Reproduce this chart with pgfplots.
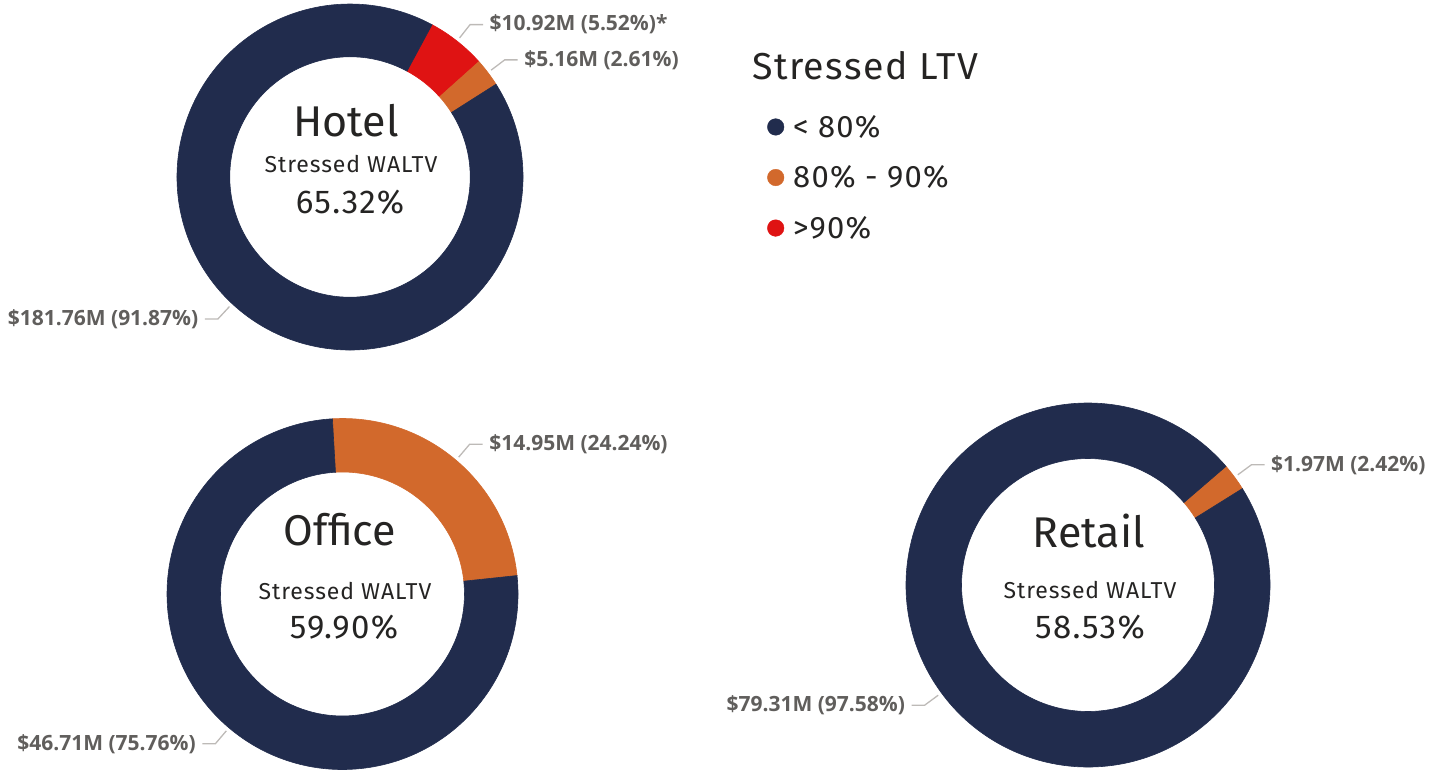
\documentclass[border=0pt]{standalone}
\usepackage{fontspec}
\usepackage{pgfplots}
\usepackage{pgfplotstable}
\pgfplotsset{compat=1.18}
\newfontfamily\dinf{Fira Sans}[LetterSpace=4]
\newfontfamily\dint{Fira Sans}
\newfontfamily\segf{Open Sans}
\definecolor{cnavy}{HTML}{212C4D}
\definecolor{corange}{HTML}{D2692C}
\definecolor{cred}{HTML}{DF1313}
\definecolor{ctext}{HTML}{252423}
\definecolor{clab}{HTML}{605E5C}
\definecolor{cline}{HTML}{BDBAB7}

\pgfplotstableread{
pct   value  col     star
5.52  10.92  cred    1
2.61  5.16   corange 0
91.87 181.76 cnavy   0
}\hoteltab
\pgfplotstableread{
pct   value  col     star
24.24 14.95  corange 0
75.76 46.71  cnavy   0
}\officetab
\pgfplotstableread{
pct   value  col     star
2.42  1.97   corange 0
97.58 79.31  cnavy   0
}\retailtab

\def\innerratio{0.695}
\newcommand\labtext[3]{\$#1M (#2\%)\ifnum#3=1*\fi}
\tikzset{leader/.style={draw=cline, line width=1.3pt},
  labnode/.style={font=\segf\bfseries\fontsize{21}{25}\selectfont, text=clab}}

\newcommand{\donut}[5]{%
  \pgfplotstablegetrowsof{#1}%
  \pgfmathtruncatemacro\nlast{\pgfplotsretval-1}%
  \xdef\cum{#4}%
  \pgfmathsetmacro\Ri{#5*\innerratio}%
  \pgfmathsetmacro\Rw{#5-\Ri}%
  \pgfmathsetmacro\Rl{#5+4}%
  \foreach \i in {0,...,\nlast}{%
    \pgfplotstablegetelem{\i}{pct}\of{#1}\let\slpct\pgfplotsretval
    \pgfplotstablegetelem{\i}{value}\of{#1}\let\slval\pgfplotsretval
    \pgfplotstablegetelem{\i}{col}\of{#1}\let\slcol\pgfplotsretval
    \pgfplotstablegetelem{\i}{star}\of{#1}\let\slstar\pgfplotsretval
    \pgfmathsetmacro\aone{90-\cum}%
    \pgfmathsetmacro\atwo{90-\cum-3.6*\slpct}%
    \pgfmathsetmacro\amid{90-\cum-1.8*\slpct}%
    \pgfmathsetmacro\newcum{\cum+3.6*\slpct}\xdef\cum{\newcum}%
    \pgfmathtruncatemacro\rside{cos(\amid)>=0}%
    \ifnum\rside=1 \def\anch{west}\def\dx{13}\else\def\anch{east}\def\dx{-13}\fi
    \edef\temp{%
      \noexpand\fill[\slcol, draw=\slcol, line width=0.6pt] (axis cs:#2,#3) ++(\aone:#5pt) arc[start angle=\aone, end angle=\atwo, radius=#5pt] -- ++(\atwo:-\Rw pt) arc[start angle=\atwo, end angle=\aone, radius=\Ri pt] -- cycle;
      \noexpand\draw[leader] (axis cs:#2,#3) ++(\amid:\Rl pt) -- ++(\amid:17pt) -- ++(\dx pt,0pt) node[anchor=\anch, inner sep=6pt, labnode] {\noexpand\labtext{\slval}{\slpct}{\slstar}};
    }%
    \temp
  }%
}

\begin{document}
\begin{tikzpicture}
\begin{axis}[name=ax, x=1pt, y=1pt, xmin=0, xmax=1429, ymin=0, ymax=770,
  y dir=reverse, hide axis, clip=false,
  legend cell align=left,
  legend style={at={(axis cs:764,111)}, anchor=north west, draw=none, fill=none,
    font=\dinf\fontsize{31}{36}\selectfont, text=ctext, row sep=23pt,
    /tikz/every odd column/.append style={column sep=7pt}}]
\addlegendimage{legend image code/.code={\fill[cnavy] (0pt,0pt) circle (8.3pt);}}
\addlegendentry{< 80\%}
\addlegendimage{legend image code/.code={\fill[corange] (0pt,0pt) circle (8.3pt);}}
\addlegendentry{80\% - 90\%}
\addlegendimage{legend image code/.code={\fill[cred] (0pt,0pt) circle (8.3pt);}}
\addlegendentry{>90\%}

\donut{\hoteltab}{350}{177}{28.3}{173}
\donut{\officetab}{342.5}{594}{-3.3}{175.5}
\donut{\retailtab}{1088}{585}{49.3}{182}

% centre texts
\node[anchor=base, text=ctext, font=\dint\fontsize{43}{50}\selectfont] at (axis cs:346,137) {Hotel};
\node[anchor=base, text=ctext, font=\dinf\fontsize{23}{27}\selectfont] at (axis cs:351,173) {Stressed WALTV};
\node[anchor=base, text=ctext, font=\dinf\fontsize{33}{38}\selectfont] at (axis cs:350,214) {65.32\%};

\node[anchor=base, text=ctext, font=\dint\fontsize{43}{50}\selectfont] at (axis cs:340,545) {Office};
\node[anchor=base, text=ctext, font=\dinf\fontsize{23}{27}\selectfont] at (axis cs:345,599) {Stressed WALTV};
\node[anchor=base, text=ctext, font=\dinf\fontsize{33}{38}\selectfont] at (axis cs:344,638) {59.90\%};

\node[anchor=base, text=ctext, font=\dint\fontsize{43}{50}\selectfont] at (axis cs:1089,547) {Retail};
\node[anchor=base, text=ctext, font=\dinf\fontsize{23}{27}\selectfont] at (axis cs:1090,598) {Stressed WALTV};
\node[anchor=base, text=ctext, font=\dinf\fontsize{33}{38}\selectfont] at (axis cs:1090,638) {58.53\%};

% legend title
\node[anchor=base west, inner sep=0pt, text=ctext, font=\dinf\fontsize{37.5}{44}\selectfont] at (axis cs:752,80) {Stressed LTV};
\end{axis}
\pgfresetboundingbox
\path (ax.south west) rectangle (ax.north east);
\end{tikzpicture}
\end{document}
